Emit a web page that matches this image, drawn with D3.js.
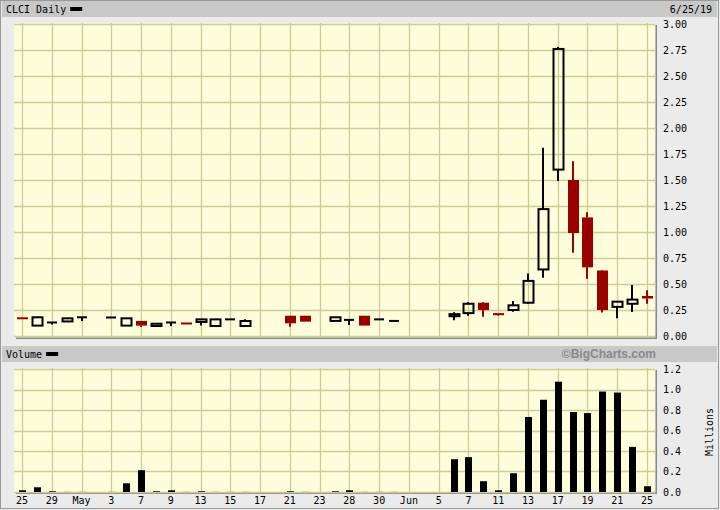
<!DOCTYPE html>
<html lang="en">
  <head>
    <meta charset="UTF-8" />
    <title>CLCI Daily</title>
    <script src="https://cdn.jsdelivr.net/npm/d3@7"></script>
    <style>
      body { margin: 0; background: #ebebeb; }
      text { font-family: 'DejaVu Sans Mono', monospace; font-size: 10px; fill: #000; }
    </style>
  </head>
  <body>
    <svg width="720" height="510"></svg>
  </body>

  <script>
    // trading days 4/25/19 - 6/25/19
    var dates = ['4/25', '4/26', '4/29', '4/30', '5/1', '5/2', '5/3', '5/6', '5/7', '5/8', '5/9', '5/10',
      '5/13', '5/14', '5/15', '5/16', '5/17', '5/20', '5/21', '5/22', '5/23', '5/24', '5/28', '5/29',
      '5/30', '5/31', '6/3', '6/4', '6/5', '6/6', '6/7', '6/10', '6/11', '6/12', '6/13', '6/14',
      '6/17', '6/18', '6/19', '6/20', '6/21', '6/24', '6/25'];
    // null = no trade that day
    var open = [0.18, 0.10, 0.13, 0.14, 0.18, null, 0.172, 0.10, 0.145, 0.096, 0.13, 0.13,
      0.135, 0.096, 0.16, 0.096, null, null, 0.195, 0.195, null, 0.145, 0.155, 0.195,
      0.16, 0.145, null, null, null, 0.19, 0.22, 0.32, 0.22, 0.25, 0.32, 0.64,
      1.60, 1.50, 1.14, 0.63, 0.28, 0.31, 0.385];
    var high = [0.18, 0.18, 0.13, 0.17, 0.18, null, 0.178, 0.17, 0.145, 0.118, 0.13, 0.13,
      0.16, 0.16, 0.16, 0.16, null, null, 0.195, 0.195, null, 0.18, 0.155, 0.195,
      0.16, 0.145, null, null, null, 0.228, 0.324, 0.327, 0.22, 0.337, 0.60, 1.81,
      2.78, 1.68, 1.19, 0.635, 0.335, 0.49, 0.44];
    var low = [0.175, 0.10, 0.11, 0.14, 0.145, null, 0.172, 0.10, 0.087, 0.096, 0.096, 0.128,
      0.10, 0.096, 0.16, 0.096, null, null, 0.09, 0.138, null, 0.145, 0.105, 0.10,
      0.16, 0.145, null, null, null, 0.151, 0.195, 0.186, 0.195, 0.234, 0.31, 0.56,
      1.49, 0.80, 0.55, 0.225, 0.17, 0.23, 0.31];
    var close = [0.175, 0.18, 0.13, 0.17, 0.18, null, 0.178, 0.17, 0.10, 0.118, 0.13, 0.128,
      0.16, 0.16, 0.16, 0.144, null, null, 0.122, 0.138, null, 0.18, 0.155, 0.10,
      0.16, 0.145, null, null, null, 0.21, 0.31, 0.25, 0.20, 0.295, 0.53, 1.22,
      2.76, 0.99, 0.66, 0.25, 0.33, 0.35, 0.36];
    // volume, millions
    var volume = [0.017, 0.046, 0.007, 0.001, 0.001, 0, 0.001, 0.085, 0.213, 0.007, 0.017, 0.001,
      0.007, 0.001, 0.001, 0.001, 0, 0, 0.007, 0.001, 0, 0.007, 0.017, 0.001,
      0.001, 0.001, 0, 0, 0, 0.32, 0.34, 0.105, 0.017, 0.183, 0.732, 0.90,
      1.076, 0.78, 0.77, 0.98, 0.97, 0.44, 0.056];

    var tickDates = ['4/25', '4/29', '5/1', '5/3', '5/7', '5/9', '5/13', '5/15', '5/17', '5/21', '5/23',
      '5/28', '5/30', '6/3', '6/5', '6/7', '6/11', '6/13', '6/17', '6/19', '6/21', '6/25'];
    var tickLabels = ['25', '29', 'May', '3', '7', '9', '13', '15', '17', '21', '23',
      '28', '30', 'Jun', '5', '7', '11', '13', '17', '19', '21', '25'];
    var priceTicks = [0, 0.25, 0.5, 0.75, 1, 1.25, 1.5, 1.75, 2, 2.25, 2.5, 2.75, 3];
    var volTicks = [0, 0.2, 0.4, 0.6, 0.8, 1.0, 1.2];

    var svg = d3.select('svg');
    var plotL = 14, plotR = 655;
    var upColor = '#000', downColor = '#990000';
    var gridColor = '#cccc99';

    // dotted yellow fill
    var pat = svg.append('defs').append('pattern')
      .attr('id', 'dots').attr('width', 2).attr('height', 2).attr('patternUnits', 'userSpaceOnUse');
    pat.append('rect').attr('width', 2).attr('height', 2).attr('fill', '#ffffe6');
    pat.append('rect').attr('width', 1).attr('height', 1).attr('fill', '#fcfcd0');
    pat.append('rect').attr('x', 1).attr('y', 1).attr('width', 1).attr('height', 1).attr('fill', '#fcfcd0');

    // frame
    svg.append('rect').attr('x', 0.5).attr('y', 0.5).attr('width', 718).attr('height', 508)
      .attr('fill', '#ebebeb').attr('stroke', '#999');

    var x = d3.scalePoint().domain(dates).range([22, 647]);
    var yP = d3.scaleLinear().domain([0, 3]).range([336, 24]);
    var yV = d3.scaleLinear().domain([0, 1.2]).range([492, 369]);

    function panel(top, bottom, title, y, ticks, fmt) {
      var g = svg.append('g');
      g.append('rect').attr('x', 2).attr('y', top - 22).attr('width', 715).attr('height', 16).attr('fill', '#c8c8c8');
      g.append('text').attr('x', 6).attr('y', top - 10).text(title);
      var tw = title.length * 6.02;
      g.append('rect').attr('x', 6 + tw + 4).attr('y', top - 16).attr('width', 12).attr('height', 4).attr('fill', '#000');
      // shadow + fill
      g.append('rect').attr('x', plotL + 2).attr('y', top + 2).attr('width', plotR - plotL).attr('height', bottom - top)
        .attr('fill', '#888');
      g.append('rect').attr('x', plotL).attr('y', top).attr('width', plotR - plotL).attr('height', bottom - top)
        .attr('fill', 'url(#dots)').attr('stroke', '#f4f4d8');
      // grid
      g.append('g').selectAll('line').data(ticks).enter().append('line')
        .attr('x1', plotL).attr('x2', plotR)
        .attr('y1', function (d) { return Math.round(y(d)) + 0.5; })
        .attr('y2', function (d) { return Math.round(y(d)) + 0.5; })
        .attr('stroke', gridColor).attr('stroke-width', 1.3);
      g.append('g').selectAll('line').data(tickDates).enter().append('line')
        .attr('x1', function (d) { return Math.round(x(d)) + 0.5; })
        .attr('x2', function (d) { return Math.round(x(d)) + 0.5; })
        .attr('y1', top).attr('y2', bottom)
        .attr('stroke', gridColor).attr('stroke-width', 1.3);
      // right axis labels
      var ax = d3.axisRight(y).tickValues(ticks).tickFormat(fmt).tickSize(0).tickPadding(8);
      var ag = g.append('g').attr('transform', 'translate(' + plotR + ',0)').call(ax);
      ag.select('.domain').remove();
      ag.selectAll('text').attr('font-family', 'DejaVu Sans Mono').attr('font-size', 10).attr('fill', '#000');
      return g;
    }

    panel(23, 337, 'CLCI Daily', yP, priceTicks, d3.format('.2f'));
    svg.append('text').attr('x', 712).attr('y', 13).attr('text-anchor', 'end').text('6/25/19');

    var vg = panel(368, 492, 'Volume', yV, volTicks, d3.format('.1f'));
    vg.append('text').attr('x', 656).attr('y', 358).attr('text-anchor', 'end')
      .style('font-family', 'Liberation Sans, Arial, sans-serif').style('font-size', '12px')
      .style('font-weight', 'bold').style('fill', '#888').text('\u00a9BigCharts.com');
    svg.append('text').attr('transform', 'translate(713,432) rotate(-90)').attr('text-anchor', 'middle').text('Millions');

    // candles
    var idx = d3.range(dates.length).filter(function (i) { return open[i] !== null; });
    var cg = svg.append('g');
    idx.forEach(function (i) {
      var cx = Math.round(x(dates[i]));
      var down = close[i] < open[i];
      var col = down ? downColor : upColor;
      var top = yP(Math.max(open[i], close[i])), bot = yP(Math.min(open[i], close[i]));
      // wicks above and below the body only
      if (yP(high[i]) < top) {
        cg.append('line').attr('x1', cx).attr('x2', cx).attr('y1', yP(high[i])).attr('y2', top)
          .attr('stroke', col).attr('stroke-width', 2);
      }
      if (yP(low[i]) > bot) {
        cg.append('line').attr('x1', cx).attr('x2', cx).attr('y1', bot).attr('y2', yP(low[i]))
          .attr('stroke', col).attr('stroke-width', 2);
      }
      if (down) {
        cg.append('rect').attr('x', cx - 5).attr('y', top).attr('width', 11).attr('height', Math.max(bot - top, 2))
          .attr('fill', col);
      } else if (bot - top < 1.5) {
        cg.append('line').attr('x1', cx - 5).attr('x2', cx + 5).attr('y1', top).attr('y2', top)
          .attr('stroke', col).attr('stroke-width', 2);
      } else {
        cg.append('rect').attr('x', cx - 4.5).attr('y', top).attr('width', 10).attr('height', bot - top)
          .attr('fill', 'none').attr('stroke', col).attr('stroke-width', 2);
      }
    });

    // volume bars
    svg.append('g').selectAll('rect').data(d3.range(dates.length)).enter().append('rect')
      .attr('x', function (i) { return Math.round(x(dates[i])) - 3; })
      .attr('y', function (i) { return yV(volume[i]); })
      .attr('width', 7)
      .attr('height', function (i) { return 492 - yV(volume[i]); })
      .attr('fill', '#000');

    // date labels
    svg.append('g').selectAll('text').data(tickDates).enter().append('text')
      .attr('x', function (d) { return x(d); })
      .attr('y', 504)
      .attr('text-anchor', 'middle')
      .text(function (d, i) { return tickLabels[i]; });
  </script>
</html>
